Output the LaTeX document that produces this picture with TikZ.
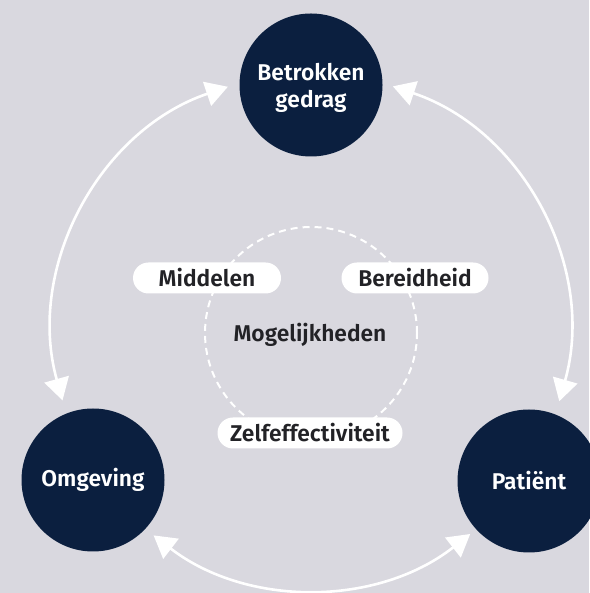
\documentclass[tikz,border=0pt]{standalone}
\usepackage{fontspec}
\setmainfont{Fira Sans}
\newfontfamily\semib{Fira Sans SemiBold}
\usetikzlibrary{arrows.meta,calc}
\definecolor{bg}{HTML}{D9D8DF}
\definecolor{navy}{HTML}{0B1F3F}
\definecolor{ink}{HTML}{222226}
\tikzset{
  bignode/.style={circle,fill=navy,minimum size=143pt,inner sep=0pt,text=white,align=center,font=\semib\fontsize{22.8}{27.5}\selectfont},
  pill/.style={rounded corners=15.5pt,fill=white,minimum height=31pt,inner sep=0pt,text=ink,font=\semib\fontsize{22.8}{27.5}\selectfont},
  cyc/.style={draw=white,line width=2.6pt,{Triangle[length=22pt,width=25pt]}-{Triangle[length=22pt,width=25pt]}},
  dashring/.style={draw=white,line width=2pt,dash pattern=on 7pt off 5pt}
}
\begin{document}
\begin{tikzpicture}[x=1pt,y=1pt]
\fill[bg] (0,0) rectangle (589,593);
\useasboundingbox (0,0) rectangle (589,593);
\coordinate (c) at (311,262);
\coordinate (mid) at (311,260);
% arcs
\coordinate (a1) at ($(c)+(108.8:258)$);
\coordinate (a2) at ($(c)+(71.5:258)$);
\coordinate (a3) at ($(c)+(232.4:258)$);
\draw[cyc] (a1) arc[start angle=108.8,end angle=195.6,radius=258];
\draw[cyc] (a2) arc[start angle=71.5,end angle=-15.8,radius=258];
\draw[cyc] (a3) arc[start angle=232.4,end angle=308.1,radius=258];
% dashed ring
\node[dashring,circle,minimum size=212pt,inner sep=0pt] (ring) at (mid) {};
\node[text=ink,font=\semib\fontsize{22.8}{27.5}\selectfont] (mog) at (310,258) {Mogelijkheden};
\node[pill,minimum width=148pt] (mid1) at (207,315) {Middelen};
\node[pill,minimum width=147pt] (ber) at (415,315) {Bereidheid};
\node[pill,minimum width=185pt] (zelf) at (310,160) {Zelfeffectiviteit};
% main nodes
\node[bignode] (top) at (311,508) {};
\node[text=white,align=center,font=\semib\fontsize{22.8}{27.5}\selectfont] (toptext) at (311,505) {Betrokken\\gedrag};
\node[bignode] (left) at (93,113) {Omgeving};
\node[bignode] (right) at (529,112) {Patiënt};
\end{tikzpicture}
\end{document}
